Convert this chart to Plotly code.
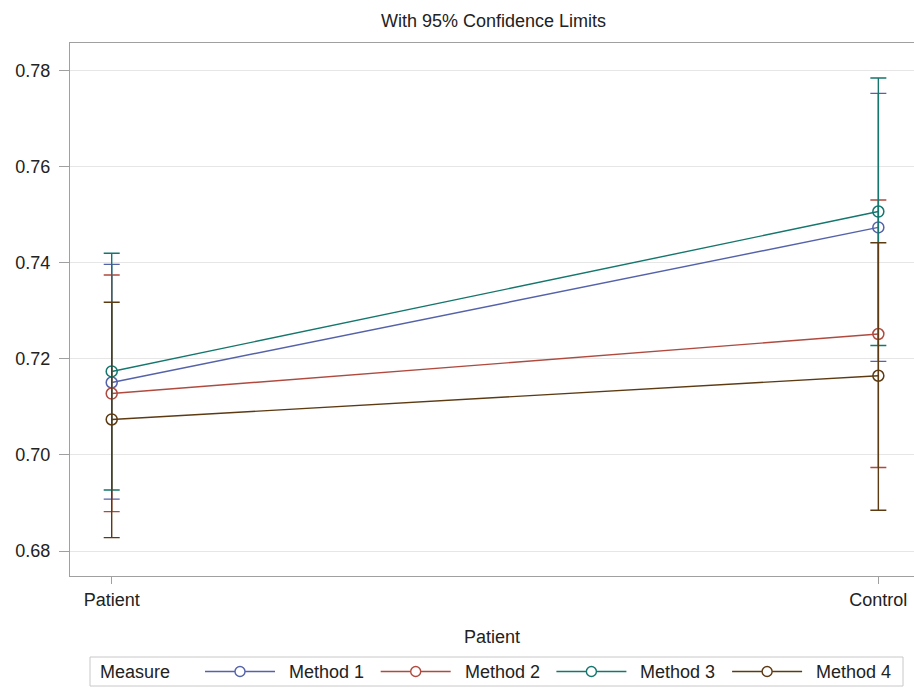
import plotly.graph_objects as go

# Group means with 95% confidence limits for each measurement method
groups = ["Patient", "Control"]
methods = ["Method 1", "Method 2", "Method 3", "Method 4"]
means = {
    "Method 1": [0.7151, 0.7474],
    "Method 2": [0.7128, 0.7252],
    "Method 3": [0.7174, 0.7507],
    "Method 4": [0.7074, 0.7165],
}
upper = {
    "Method 1": [0.7397, 0.7753],
    "Method 2": [0.7375, 0.7531],
    "Method 3": [0.7420, 0.7785],
    "Method 4": [0.7318, 0.7442],
}
lower = {
    "Method 1": [0.6908, 0.7195],
    "Method 2": [0.6882, 0.6974],
    "Method 3": [0.6927, 0.7228],
    "Method 4": [0.6828, 0.6885],
}
colors = {
    "Method 1": "#5462aa",
    "Method 2": "#b04a3f",
    "Method 3": "#14766d",
    "Method 4": "#5c3a12",
}
y_ticks = [0.68, 0.70, 0.72, 0.74, 0.76, 0.78]

FONT = "Liberation Sans, Arial, sans-serif"
W, H = 914, 698
ML, MR, MT, MB = 70, 0, 43, 122
PW, PH = W - ML - MR, H - MT - MB


def px(x):
    """Canvas pixel x -> paper fraction."""
    return (x - ML) / PW


def py(y):
    """Canvas pixel y -> paper fraction."""
    return (H - MB - y) / PH


fig = go.Figure()
for m in methods:
    mu = means[m]
    err_plus = [u - v for u, v in zip(upper[m], mu)]
    err_minus = [v - l for v, l in zip(mu, lower[m])]
    fig.add_trace(go.Scatter(
        x=groups, y=mu, name=m, mode="lines+markers",
        line=dict(color=colors[m], width=1.4),
        marker=dict(symbol="circle-open", size=11, color=colors[m],
                    line=dict(width=1.5, color=colors[m])),
        error_y=dict(type="data", symmetric=False, array=err_plus,
                     arrayminus=err_minus, color=colors[m],
                     thickness=1.4, width=8),
        showlegend=False,
    ))

# Legend drawn as a boxed single row beneath the axis title
shapes = [dict(type="rect", xref="paper", yref="paper",
               x0=px(90), x1=px(903), y0=py(686), y1=py(657),
               line=dict(color="#c8c8c8", width=1), fillcolor="white",
               layer="below")]
annotations = [dict(text="Measure", xref="paper", yref="paper",
                    x=px(98), y=py(671.5), xanchor="left", yanchor="middle",
                    showarrow=False, font=dict(size=18, color="#222222"))]
entry_start = 205
entry_step = 175.7
ly = py(671.5)
for i, m in enumerate(methods):
    x0 = entry_start + i * entry_step
    x1 = x0 + 70
    cx = (x0 + x1) / 2
    shapes.append(dict(type="line", xref="paper", yref="paper",
                       x0=px(x0), x1=px(x1), y0=ly, y1=ly,
                       line=dict(color=colors[m], width=1.4)))
    shapes.append(dict(type="circle", xref="paper", yref="paper",
                       x0=px(cx - 5), x1=px(cx + 5),
                       y0=py(671.5 + 5), y1=py(671.5 - 5),
                       line=dict(color=colors[m], width=1.4),
                       fillcolor="white"))
    annotations.append(dict(text=m, xref="paper", yref="paper",
                            x=px(x1 + 12), y=ly, xanchor="left",
                            yanchor="middle", showarrow=False,
                            font=dict(size=18, color="#222222")))

fig.update_layout(
    width=W, height=H,
    margin=dict(l=ML, r=MR, t=MT, b=MB),
    paper_bgcolor="white", plot_bgcolor="white",
    font=dict(family=FONT, size=18, color="#222222"),
    title=dict(text="With 95% Confidence Limits", x=0.54, xanchor="center",
               y=0.97, yanchor="middle", font=dict(size=18, color="#222222")),
    showlegend=False,
    shapes=shapes,
    annotations=annotations,
    xaxis=dict(
        type="category", range=[-0.0544, 1.0465],
        title=dict(text="Patient", standoff=21, font=dict(size=18)),
        showline=True, linecolor="#a0a0a0", linewidth=1, mirror=True,
        ticks="outside", ticklen=7, tickcolor="#a0a0a0",
        showgrid=False, zeroline=False,
    ),
    yaxis=dict(
        range=[0.6748, 0.7858], tickvals=y_ticks,
        tickformat=".2f",
        showline=True, linecolor="#a0a0a0", linewidth=1, mirror=True,
        ticks="outside", ticklen=10, tickcolor="#a0a0a0",
        ticklabelstandoff=5,
        showgrid=True, gridcolor="#e6e6e6", zeroline=False,
    ),
)

fig.write_html("out.html")
